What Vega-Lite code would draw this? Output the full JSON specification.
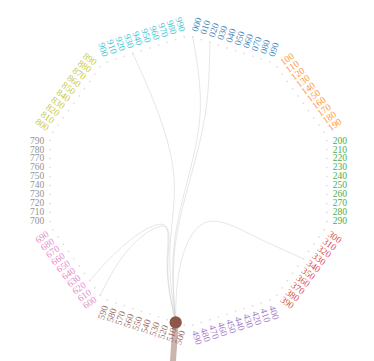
{
  "$schema": "https://vega.github.io/schema/vega-lite/v6.json",
  "width": 374,
  "height": 361,
  "autosize": {"type": "none"},
  "padding": 0,
  "background": "white",
  "config": {"view": {"stroke": null}},
  "datasets": {
    "nodes": [
      {"n":"000"},{"n":"010"},{"n":"020"},{"n":"030"},{"n":"040"},{"n":"050"},{"n":"060"},{"n":"070"},{"n":"080"},{"n":"090"},
      {"n":"100"},{"n":"110"},{"n":"120"},{"n":"130"},{"n":"140"},{"n":"150"},{"n":"160"},{"n":"170"},{"n":"180"},{"n":"190"},
      {"n":"200"},{"n":"210"},{"n":"220"},{"n":"230"},{"n":"240"},{"n":"250"},{"n":"260"},{"n":"270"},{"n":"280"},{"n":"290"},
      {"n":"300"},{"n":"310"},{"n":"320"},{"n":"330"},{"n":"340"},{"n":"350"},{"n":"360"},{"n":"370"},{"n":"380"},{"n":"390"},
      {"n":"400"},{"n":"410"},{"n":"420"},{"n":"430"},{"n":"440"},{"n":"450"},{"n":"460"},{"n":"470"},{"n":"480"},{"n":"490"},
      {"n":"500"},{"n":"510"},{"n":"520"},{"n":"530"},{"n":"540"},{"n":"550"},{"n":"560"},{"n":"570"},{"n":"580"},{"n":"590"},
      {"n":"600"},{"n":"610"},{"n":"620"},{"n":"630"},{"n":"640"},{"n":"650"},{"n":"660"},{"n":"670"},{"n":"680"},{"n":"690"},
      {"n":"700"},{"n":"710"},{"n":"720"},{"n":"730"},{"n":"740"},{"n":"750"},{"n":"760"},{"n":"770"},{"n":"780"},{"n":"790"},
      {"n":"800"},{"n":"810"},{"n":"820"},{"n":"830"},{"n":"840"},{"n":"850"},{"n":"860"},{"n":"870"},{"n":"880"},{"n":"890"},
      {"n":"900"},{"n":"910"},{"n":"920"},{"n":"930"},{"n":"940"},{"n":"950"},{"n":"960"},{"n":"970"},{"n":"980"},{"n":"990"}
    ],
    "edges": [
      {"e":"a","s":0,"n":"510"},{"e":"a","s":1,"n":"510"},{"e":"a","s":2,"n":"510"},{"e":"a","s":3,"n":"000"},{"e":"a","s":4,"n":"000"},
      {"e":"b","s":0,"n":"510"},{"e":"b","s":1,"n":"510"},{"e":"b","s":2,"n":"510"},{"e":"b","s":3,"n":"600"},{"e":"b","s":4,"n":"600"},
      {"e":"c","s":0,"n":"510"},{"e":"c","s":1,"n":"510"},{"e":"c","s":2,"n":"510"},{"e":"c","s":3,"n":"620"},{"e":"c","s":4,"n":"620"},
      {"e":"d","s":0,"n":"510"},{"e":"d","s":1,"n":"510"},{"e":"d","s":2,"n":"510"},{"e":"d","s":3,"n":"340"},{"e":"d","s":4,"n":"340"},
      {"e":"f","s":0,"n":"510"},{"e":"f","s":1,"n":"510"},{"e":"f","s":2,"n":"510"},{"e":"f","s":3,"n":"930"},{"e":"f","s":4,"n":"930"},
      {"e":"h","s":0,"n":"510"},{"e":"h","s":1,"n":"510"},{"e":"h","s":2,"n":"510"},{"e":"h","s":3,"n":"020"},{"e":"h","s":4,"n":"020"}
    ]
  },
  "layer": [
    {
      "data": {"name": "edges"},
      "transform": [
        {"calculate": "toNumber(datum.n)/10", "as": "i"},
        {"calculate": "floor(datum.i/10)", "as": "g"},
        {"calculate": "(datum.i%10+0.5)/10", "as": "t"},
        {"calculate": "datum.g*PI/5", "as": "a0"},
        {"calculate": "(datum.g+1)*PI/5", "as": "a1"},
        {"calculate": "(datum.g+0.5)*PI/5", "as": "ac"},
        {"calculate": "sin(datum.a0)+datum.t*(sin(datum.a1)-sin(datum.a0))", "as": "px"},
        {"calculate": "cos(datum.a0)+datum.t*(cos(datum.a1)-cos(datum.a0))", "as": "py"},
        {"calculate": "datum.s==2 ? 0 : (datum.s==1||datum.s==3) ? 0.5*sin(datum.ac) : datum.px", "as": "ex"},
        {"calculate": "datum.s==2 ? 0 : (datum.s==1||datum.s==3) ? 0.5*cos(datum.ac) : datum.py", "as": "ey"}
      ],
      "mark": {"type": "line", "interpolate": "bundle", "tension": 0.75, "stroke": "#c8c8c8", "strokeWidth": 1, "opacity": 0.45},
      "encoding": {
        "x": {"field": "ex", "type": "quantitative", "scale": {"domain": [-1.2946, 1.274], "nice": false, "zero": false}, "axis": null},
        "y": {"field": "ey", "type": "quantitative", "scale": {"domain": [-1.2363, 1.2431], "nice": false, "zero": false}, "axis": null},
        "detail": {"field": "e", "type": "nominal"},
        "order": {"field": "s", "type": "quantitative"}
      }
    },
    {
      "data": {"name": "nodes"},
      "transform": [
        {"calculate": "toNumber(datum.n)/10", "as": "i"},
        {"calculate": "floor(datum.i/10)", "as": "g"},
        {"calculate": "(datum.i%10+0.5)/10", "as": "t"},
        {"calculate": "datum.g*PI/5", "as": "a0"},
        {"calculate": "(datum.g+1)*PI/5", "as": "a1"},
        {"calculate": "sin(datum.a0)+datum.t*(sin(datum.a1)-sin(datum.a0))", "as": "px"},
        {"calculate": "cos(datum.a0)+datum.t*(cos(datum.a1)-cos(datum.a0))", "as": "py"}
      ],
      "mark": {"type": "circle", "size": 3, "color": "#d0d0d0", "opacity": 0.7},
      "encoding": {
        "x": {"field": "px", "type": "quantitative", "scale": {"domain": [-1.2946, 1.274], "nice": false, "zero": false}, "axis": null},
        "y": {"field": "py", "type": "quantitative", "scale": {"domain": [-1.2363, 1.2431], "nice": false, "zero": false}, "axis": null}
      }
    },
    {
      "data": {"name": "nodes"},
      "transform": [
        {"filter": "datum.n == '510'"},
        {"calculate": "toNumber(datum.n)/10", "as": "i"},
        {"calculate": "floor(datum.i/10)", "as": "g"},
        {"calculate": "(datum.i%10+0.5)/10", "as": "t"},
        {"calculate": "datum.g*PI/5", "as": "a0"},
        {"calculate": "(datum.g+1)*PI/5", "as": "a1"},
        {"calculate": "sin(datum.a0)+datum.t*(sin(datum.a1)-sin(datum.a0))", "as": "px"},
        {"calculate": "cos(datum.a0)+datum.t*(cos(datum.a1)-cos(datum.a0))", "as": "py"},
        {"calculate": "datum.px-0.03", "as": "qx"},
        {"calculate": "-1.4", "as": "qy"}
      ],
      "mark": {"type": "rule", "color": "#8c564b", "opacity": 0.45, "strokeWidth": 6},
      "encoding": {
        "x": {"field": "px", "type": "quantitative", "scale": {"domain": [-1.2946, 1.274], "nice": false, "zero": false}, "axis": null},
        "y": {"field": "py", "type": "quantitative", "scale": {"domain": [-1.2363, 1.2431], "nice": false, "zero": false}, "axis": null},
        "x2": {"field": "qx"},
        "y2": {"field": "qy"}
      }
    },
    {
      "data": {"name": "nodes"},
      "transform": [
        {"calculate": "toNumber(datum.n)/10", "as": "i"},
        {"calculate": "floor(datum.i/10)", "as": "g"},
        {"filter": "datum.g < 5"},
        {"calculate": "(datum.i%10+0.5)/10", "as": "t"},
        {"calculate": "datum.g*PI/5", "as": "a0"},
        {"calculate": "(datum.g+1)*PI/5", "as": "a1"},
        {"calculate": "(datum.g+0.5)*PI/5", "as": "ac"},
        {"calculate": "sin(datum.a0)+datum.t*(sin(datum.a1)-sin(datum.a0))+0.04*sin(datum.ac)", "as": "lx"},
        {"calculate": "cos(datum.a0)+datum.t*(cos(datum.a1)-cos(datum.a0))+0.04*cos(datum.ac)", "as": "ly"},
        {"calculate": "datum.g*36-72", "as": "ang"}
      ],
      "mark": {"type": "text", "align": "left", "baseline": "middle", "font": "Liberation Serif", "fontSize": 9.5, "opacity": 0.85},
      "encoding": {
        "x": {"field": "lx", "type": "quantitative", "scale": {"domain": [-1.2946, 1.274], "nice": false, "zero": false}, "axis": null},
        "y": {"field": "ly", "type": "quantitative", "scale": {"domain": [-1.2363, 1.2431], "nice": false, "zero": false}, "axis": null},
        "angle": {"field": "ang", "type": "quantitative", "scale": null},
        "text": {"field": "n"},
        "color": {"field": "g", "type": "nominal", "scale": {"domain": [0,1,2,3,4,5,6,7,8,9], "range": ["#1f77b4","#ff7f0e","#2ca02c","#d62728","#9467bd","#8c564b","#e377c2","#7f7f7f","#bcbd22","#17becf"]}, "legend": null}
      }
    },
    {
      "data": {"name": "nodes"},
      "transform": [
        {"calculate": "toNumber(datum.n)/10", "as": "i"},
        {"calculate": "floor(datum.i/10)", "as": "g"},
        {"filter": "datum.g >= 5"},
        {"calculate": "(datum.i%10+0.5)/10", "as": "t"},
        {"calculate": "datum.g*PI/5", "as": "a0"},
        {"calculate": "(datum.g+1)*PI/5", "as": "a1"},
        {"calculate": "(datum.g+0.5)*PI/5", "as": "ac"},
        {"calculate": "sin(datum.a0)+datum.t*(sin(datum.a1)-sin(datum.a0))+0.04*sin(datum.ac)", "as": "lx"},
        {"calculate": "cos(datum.a0)+datum.t*(cos(datum.a1)-cos(datum.a0))+0.04*cos(datum.ac)", "as": "ly"},
        {"calculate": "datum.g*36-252", "as": "ang"}
      ],
      "mark": {"type": "text", "align": "right", "baseline": "middle", "font": "Liberation Serif", "fontSize": 9.5, "opacity": 0.85},
      "encoding": {
        "x": {"field": "lx", "type": "quantitative", "scale": {"domain": [-1.2946, 1.274], "nice": false, "zero": false}, "axis": null},
        "y": {"field": "ly", "type": "quantitative", "scale": {"domain": [-1.2363, 1.2431], "nice": false, "zero": false}, "axis": null},
        "angle": {"field": "ang", "type": "quantitative", "scale": null},
        "text": {"field": "n"},
        "color": {"field": "g", "type": "nominal", "scale": {"domain": [0,1,2,3,4,5,6,7,8,9], "range": ["#1f77b4","#ff7f0e","#2ca02c","#d62728","#9467bd","#8c564b","#e377c2","#7f7f7f","#bcbd22","#17becf"]}, "legend": null}
      }
    },
    {
      "data": {"name": "nodes"},
      "transform": [
        {"filter": "datum.n == '510'"},
        {"calculate": "toNumber(datum.n)/10", "as": "i"},
        {"calculate": "floor(datum.i/10)", "as": "g"},
        {"calculate": "(datum.i%10+0.5)/10", "as": "t"},
        {"calculate": "datum.g*PI/5", "as": "a0"},
        {"calculate": "(datum.g+1)*PI/5", "as": "a1"},
        {"calculate": "sin(datum.a0)+datum.t*(sin(datum.a1)-sin(datum.a0))", "as": "px"},
        {"calculate": "cos(datum.a0)+datum.t*(cos(datum.a1)-cos(datum.a0))", "as": "py"}
      ],
      "mark": {"type": "circle", "size": 150, "color": "#8c564b", "opacity": 1},
      "encoding": {
        "x": {"field": "px", "type": "quantitative", "scale": {"domain": [-1.2946, 1.274], "nice": false, "zero": false}, "axis": null},
        "y": {"field": "py", "type": "quantitative", "scale": {"domain": [-1.2363, 1.2431], "nice": false, "zero": false}, "axis": null}
      }
    }
  ]
}
